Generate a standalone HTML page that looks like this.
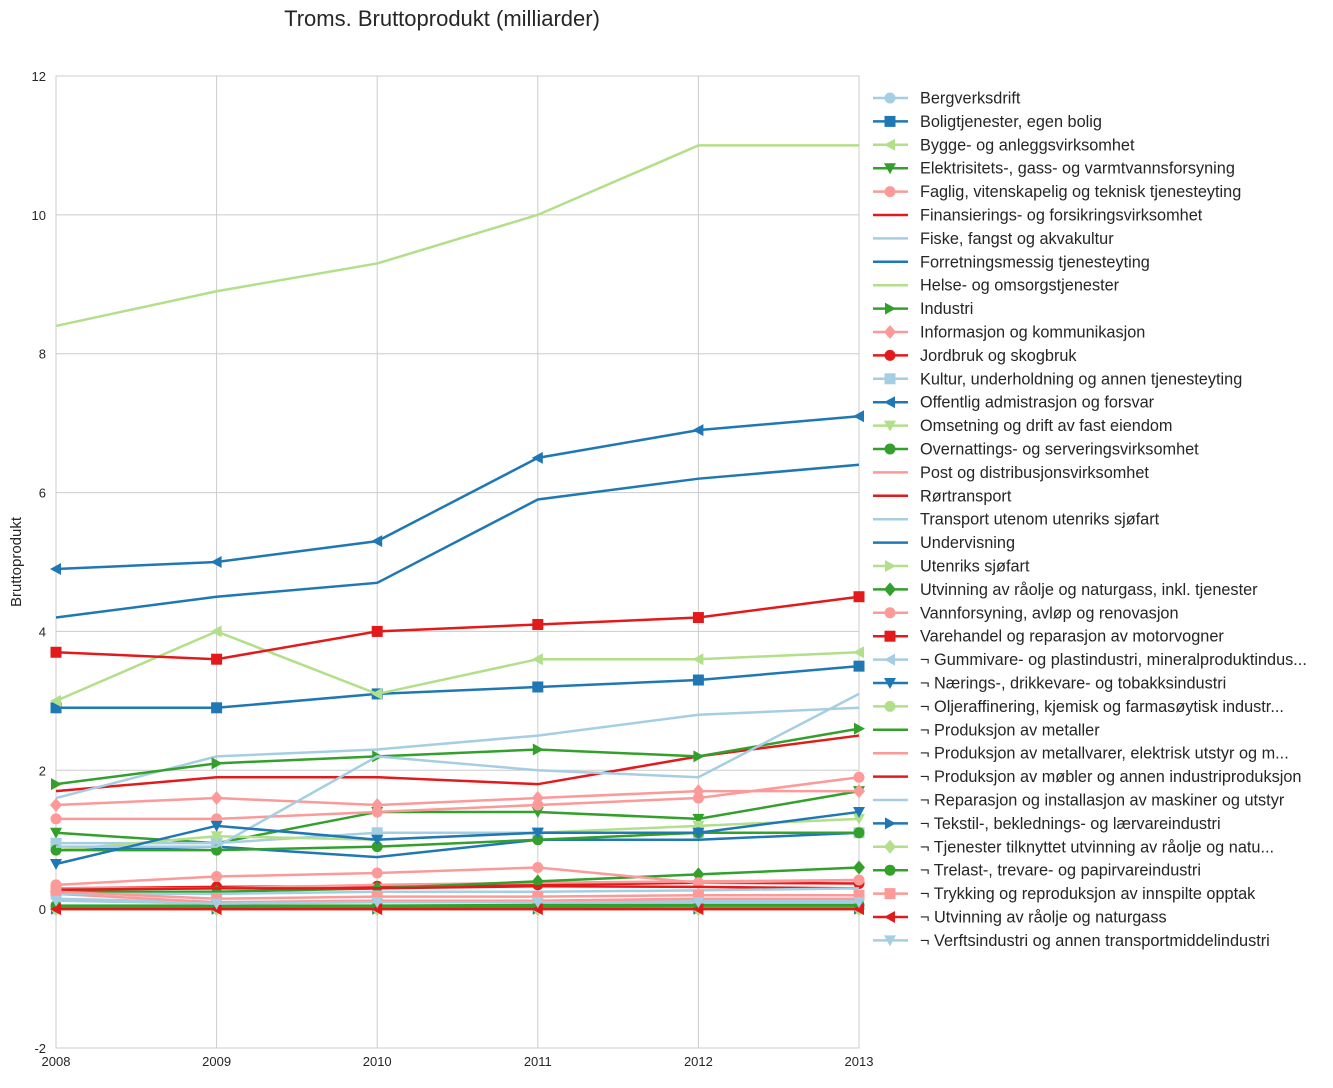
<!DOCTYPE html>
<html><head><meta charset="utf-8"><style>
body{margin:0;background:#fff;font-family:"Liberation Sans",sans-serif}
svg text{font-family:"Liberation Sans",sans-serif}
</style></head><body>
<svg id="c" width="1333" height="1083"></svg>
<script>
const years=[2008,2009,2010,2011,2012,2013];
const yTicks=[-2,0,2,4,6,8,10,12];
const names=["Bergverksdrift","Boligtjenester, egen bolig","Bygge- og anleggsvirksomhet","Elektrisitets-, gass- og varmtvannsforsyning","Faglig, vitenskapelig og teknisk tjenesteyting","Finansierings- og forsikringsvirksomhet","Fiske, fangst og akvakultur","Forretningsmessig tjenesteyting","Helse- og omsorgstjenester","Industri","Informasjon og kommunikasjon","Jordbruk og skogbruk","Kultur, underholdning og annen tjenesteyting","Offentlig admistrasjon og forsvar","Omsetning og drift av fast eiendom","Overnattings- og serveringsvirksomhet","Post og distribusjonsvirksomhet","Rørtransport","Transport utenom utenriks sjøfart","Undervisning","Utenriks sjøfart","Utvinning av råolje og naturgass, inkl. tjenester","Vannforsyning, avløp og renovasjon","Varehandel og reparasjon av motorvogner","¬ Gummivare- og plastindustri, mineralproduktindus...","¬ Nærings-, drikkevare- og tobakksindustri","¬ Oljeraffinering, kjemisk og farmasøytisk industr...","¬ Produksjon av metaller","¬ Produksjon av metallvarer, elektrisk utstyr og m...","¬ Produksjon av møbler og annen industriproduksjon","¬ Reparasjon og installasjon av maskiner og utstyr","¬ Tekstil-, beklednings- og lærvareindustri","¬ Tjenester tilknyttet utvinning av råolje og natu...","¬ Trelast-, trevare- og papirvareindustri","¬ Trykking og reproduksjon av innspilte opptak","¬ Utvinning av råolje og naturgass","¬ Verftsindustri og annen transportmiddelindustri"];
const mk=["o","s","<","v","o","","","","",">","D","o","s","<","v","o","","","","",">","D","o","s","<","v","o","","","","",">","D","o","s","<","v"];
const s0=[0.02,0.02,0.03,0.03,0.03,0.03];
const s1=[2.9,2.9,3.1,3.2,3.3,3.5];
const s2=[3.0,4.0,3.1,3.6,3.6,3.7];
const s3=[1.1,0.95,1.4,1.4,1.3,1.7];
const s4=[1.3,1.3,1.4,1.5,1.6,1.9];
const s5=[1.7,1.9,1.9,1.8,2.2,2.5];
const s6=[1.6,2.2,2.3,2.5,2.8,2.9];
const s7=[0.85,0.9,0.75,1.0,1.0,1.1];
const s8=[8.4,8.9,9.3,10.0,11.0,11.0];
const s9=[1.8,2.1,2.2,2.3,2.2,2.6];
const s10=[1.5,1.6,1.5,1.6,1.7,1.7];
const s11=[0.3,0.32,0.33,0.35,0.38,0.37];
const s12=[0.95,0.95,1.1,1.1,1.1,1.1];
const s13=[4.9,5.0,5.3,6.5,6.9,7.1];
const s14=[0.85,1.05,1.0,1.1,1.2,1.3];
const s15=[0.85,0.85,0.9,1.0,1.1,1.1];
const s16=[0.3,0.3,0.35,0.38,0.4,0.42];
const s17=[0,0,0,0,0,0];
const s18=[0.9,0.9,2.2,2.0,1.9,3.1];
const s19=[4.2,4.5,4.7,5.9,6.2,6.4];
const s20=[0,0,0,0,0,0];
const s21=[0.25,0.25,0.3,0.4,0.5,0.6];
const s22=[0.35,0.47,0.52,0.6,0.38,0.42];
const s23=[3.7,3.6,4.0,4.1,4.2,4.5];
const s24=[0.15,0.1,0.12,0.12,0.13,0.13];
const s25=[0.65,1.2,1.0,1.1,1.1,1.4];
const s26=[0.02,0.02,0.02,0.02,0.02,0.02];
const s27=[0.03,0.03,0.04,0.04,0.05,0.05];
const s28=[0.22,0.1,0.12,0.12,0.15,0.15];
const s29=[0.28,0.3,0.3,0.33,0.32,0.3];
const s30=[0.22,0.22,0.25,0.25,0.27,0.3];
const s31=[0.01,0.01,0.01,0.01,0.01,0.01];
const s32=[0.0,0.0,0.0,0.0,0.0,0.0];
const s33=[0.05,0.05,0.05,0.06,0.06,0.06];
const s34=[0.25,0.15,0.18,0.18,0.2,0.2];
const s35=[0,0,0,0,0,0];
const s36=[0.12,0.08,0.1,0.1,0.1,0.1];
const series=[s0,s1,s2,s3,s4,s5,s6,s7,s8,s9,s10,s11,s12,s13,s14,s15,s16,s17,s18,s19,s20,s21,s22,s23,s24,s25,s26,s27,s28,s29,s30,s31,s32,s33,s34,s35,s36];
const pal=["#a6cee3","#1f78b4","#b2df8a","#33a02c","#fb9a99","#e31a1c"];
const X0=56,X1=859,Y0=76,Y1=1048;
const xs=y=>X0+(y-2008)/(2013-2008)*(X1-X0);
const ys=v=>Y1-(v+2)/14*(Y1-Y0);
const NS="http://www.w3.org/2000/svg";
const svg=document.getElementById('c');
function el(t,a,p){const e=document.createElementNS(NS,t);for(const k in a)e.setAttribute(k,a[k]);(p||svg).appendChild(e);return e;}
function marker(m,x,y,c,g){
  const r=5.5;let e;
  if(m==="o")e=el('circle',{cx:x,cy:y,r:r,fill:c},g);
  else if(m==="s")e=el('rect',{x:x-r,y:y-r,width:2*r,height:2*r,fill:c},g);
  else if(m==="D")e=el('polygon',{points:`${x},${y-7} ${x+6},${y} ${x},${y+7} ${x-6},${y}`,fill:c},g);
  else if(m==="v")e=el('polygon',{points:`${x-6},${y-5} ${x+6},${y-5} ${x},${y+6}`,fill:c},g);
  else if(m==="<")e=el('polygon',{points:`${x+5},${y-6} ${x+5},${y+6} ${x-6},${y}`,fill:c},g);
  else if(m===">")e=el('polygon',{points:`${x-5},${y-6} ${x-5},${y+6} ${x+6},${y}`,fill:c},g);
  if(e){}
}
const t=el('text',{x:442,y:26,'font-size':22,'text-anchor':'middle',fill:'#262626'});t.textContent="Troms. Bruttoprodukt (milliarder)";

yTicks.forEach(v=>{const l=el('line',{x1:X0,x2:X1,y1:ys(v),y2:ys(v),stroke:'#cccccc','stroke-width':1});

const tx=el('text',{x:X0-10,y:ys(v)+5,'font-size':13,'text-anchor':'end',fill:'#262626'});tx.textContent=v;
});
years.forEach(y=>{const l=el('line',{x1:xs(y),x2:xs(y),y1:Y0,y2:Y1,stroke:'#cccccc','stroke-width':1});

const tx=el('text',{x:xs(y),y:Y1+18,'font-size':13,'text-anchor':'middle',fill:'#262626'});tx.textContent=y;
});
const fr=el('rect',{x:X0,y:Y0,width:X1-X0,height:Y1-Y0,fill:'none',stroke:'#cccccc'});

const yl=el('text',{x:21,y:(Y0+Y1)/2,'font-size':15,'text-anchor':'middle',fill:'#262626',transform:`rotate(-90 21 ${(Y0+Y1)/2})`});yl.textContent="Bruttoprodukt";

series.forEach((s,i)=>{const c=pal[i%6];const g=el('g',{});

el('polyline',{points:s.map((v,j)=>xs(years[j])+','+ys(v)).join(' '),fill:'none',stroke:c,'stroke-width':2.5},g);
if(mk[i])s.forEach((v,j)=>marker(mk[i],xs(years[j]),ys(v),c,g));});
series.forEach((s,i)=>{const c=pal[i%6];const y=98+i*23.4;const g=el('g',{});

el('line',{x1:873,x2:908,y1:y,y2:y,stroke:c,'stroke-width':2.5},g);
if(mk[i])marker(mk[i],890,y,c,g);
const tx=el('text',{x:920,y:y+5.5,'font-size':16.3,fill:'#262626'},g);tx.textContent=names[i];});
</script>
</body></html>
